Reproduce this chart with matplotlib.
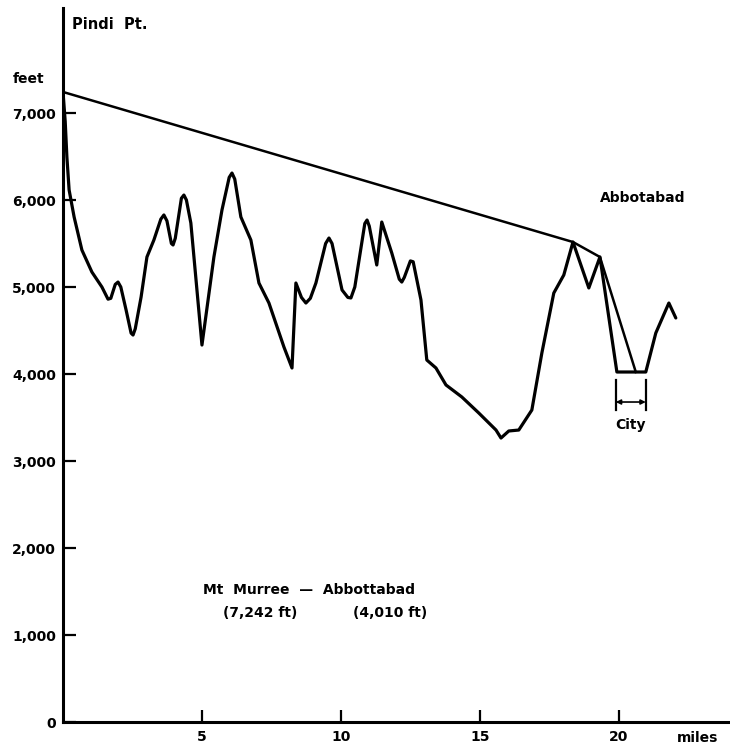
import matplotlib.pyplot as plt

"""
Terrain profile Mt Murree (Pindi Pt.) to Abbottabad with line of sight.
"""

# profile: distance (miles) and height (feet)
miles = [0.0, 0.08, 0.14, 0.22, 0.40, 0.68, 1.04, 1.40, 1.62, 1.72, 1.88,
         1.98, 2.08, 2.27, 2.45, 2.52, 2.60, 2.81, 3.02, 3.27, 3.52, 3.63,
         3.74, 3.90, 3.96, 4.04, 4.26, 4.35, 4.44, 4.60, 5.00, 5.43, 5.72,
         5.98, 6.08, 6.18, 6.40, 6.76, 7.05, 7.41, 7.95, 8.24, 8.38, 8.58,
         8.74, 8.90, 9.10, 9.45, 9.57, 9.68, 10.04, 10.25, 10.36, 10.50,
         10.86, 10.94, 11.02, 11.29, 11.47, 11.83, 12.10, 12.19, 12.28,
         12.50, 12.60, 12.88, 13.09, 13.42, 13.78, 14.35, 14.96, 15.58,
         15.76, 16.04, 16.40, 16.87, 17.23, 17.66, 18.02, 18.35, 18.92,
         19.32, 19.93, 20.97, 21.33, 21.80, 22.05]
feet = [7242, 6900, 6494, 6115, 5805, 5425, 5172, 5000, 4860, 4870, 5030,
        5057, 5000, 4736, 4470, 4448, 4520, 4885, 5345, 5540, 5780, 5828,
        5760, 5500, 5483, 5560, 6020, 6057, 6000, 5736, 4333, 5345, 5885,
        6260, 6310, 6240, 5805, 5540, 5046, 4816, 4310, 4069, 5046, 4880,
        4816, 4870, 5046, 5500, 5563, 5500, 4966, 4880, 4874, 5000,
        5730, 5770, 5700, 5253, 5747, 5391, 5090, 5057, 5110,
        5300, 5290, 4851, 4161, 4069, 3874, 3736, 3552, 3356,
        3264, 3345, 3356, 3586, 4241, 4931, 5138, 5517, 4989,
        5345, 4023, 4023, 4471, 4816, 4644]

# line of sight from Pindi Pt. over the ridge down into the city
sight_miles = [0.0, 18.35, 19.32, 20.61]
sight_feet = [7242, 5517, 5345, 4023]

# extent of the city
city_start, city_end = 19.89, 20.97

y_ticks = [0, 1000, 2000, 3000, 4000, 5000, 6000, 7000]
y_labels = ["0", "1,000", "2,000", "3,000", "4,000", "5,000", "6,000", "7,000"]
x_ticks = [5, 10, 15, 20]
x_labels = ["5", "10", "15", "20"]

plt.rcParams["font.family"] = "DejaVu Sans"
plt.rcParams["font.weight"] = "bold"

fig = plt.figure(figsize=(7.3, 7.51), dpi=100)
ax = fig.add_axes([63 / 730, 29 / 751, 667 / 730, 714 / 751])

ax.plot(miles, feet, color="black", lw=2.3, solid_joinstyle="round",
        solid_capstyle="round")
ax.plot(sight_miles, sight_feet, color="black", lw=1.8,
        solid_joinstyle="round")

# city marker: two uprights with a double arrow between them
for xc in (city_start, city_end):
    ax.plot([xc, xc], [3586, 3931], color="black", lw=1.6)
ax.annotate("", xy=(city_end, 3678), xytext=(city_start, 3678),
            arrowprops=dict(arrowstyle="<|-|>", color="black", lw=1.2,
                            mutation_scale=7, shrinkA=0, shrinkB=0))
ax.text((city_start + city_end) / 2, 3414, "City", ha="center",
        va="center", fontsize=10)

ax.set_xlim(0, 24.0)
ax.set_ylim(0, 8207)
ax.set_xticks(x_ticks, x_labels)
ax.set_yticks(y_ticks, y_labels)
ax.tick_params(direction="in", length=9, width=1.6, labelsize=10, pad=6)
ax.tick_params(axis="y", pad=5)

for side in ("top", "right"):
    ax.spines[side].set_visible(False)
for side in ("left", "bottom"):
    ax.spines[side].set_linewidth(2.2)

ax.text(0.32, 8023, "Pindi  Pt.", ha="left", va="center", fontsize=10.5)
ax.text(-0.075, 0.901, "feet", transform=ax.transAxes, ha="left",
        va="center", fontsize=10)
ax.text(20.86, 6023, "Abbotabad", ha="center", va="center", fontsize=10)
ax.text(5.04, 1517, "Mt  Murree  \u2014  Abbottabad", ha="left",
        va="center", fontsize=10)
ax.text(5.76, 1253, "(7,242 ft)", ha="left", va="center", fontsize=10)
ax.text(10.43, 1253, "(4,010 ft)", ha="left", va="center", fontsize=10)
ax.text(22.85, -0.0224, "miles", transform=ax.get_xaxis_transform(),
        ha="center", va="center", fontsize=10)

fig.savefig("out.png", dpi=100)
